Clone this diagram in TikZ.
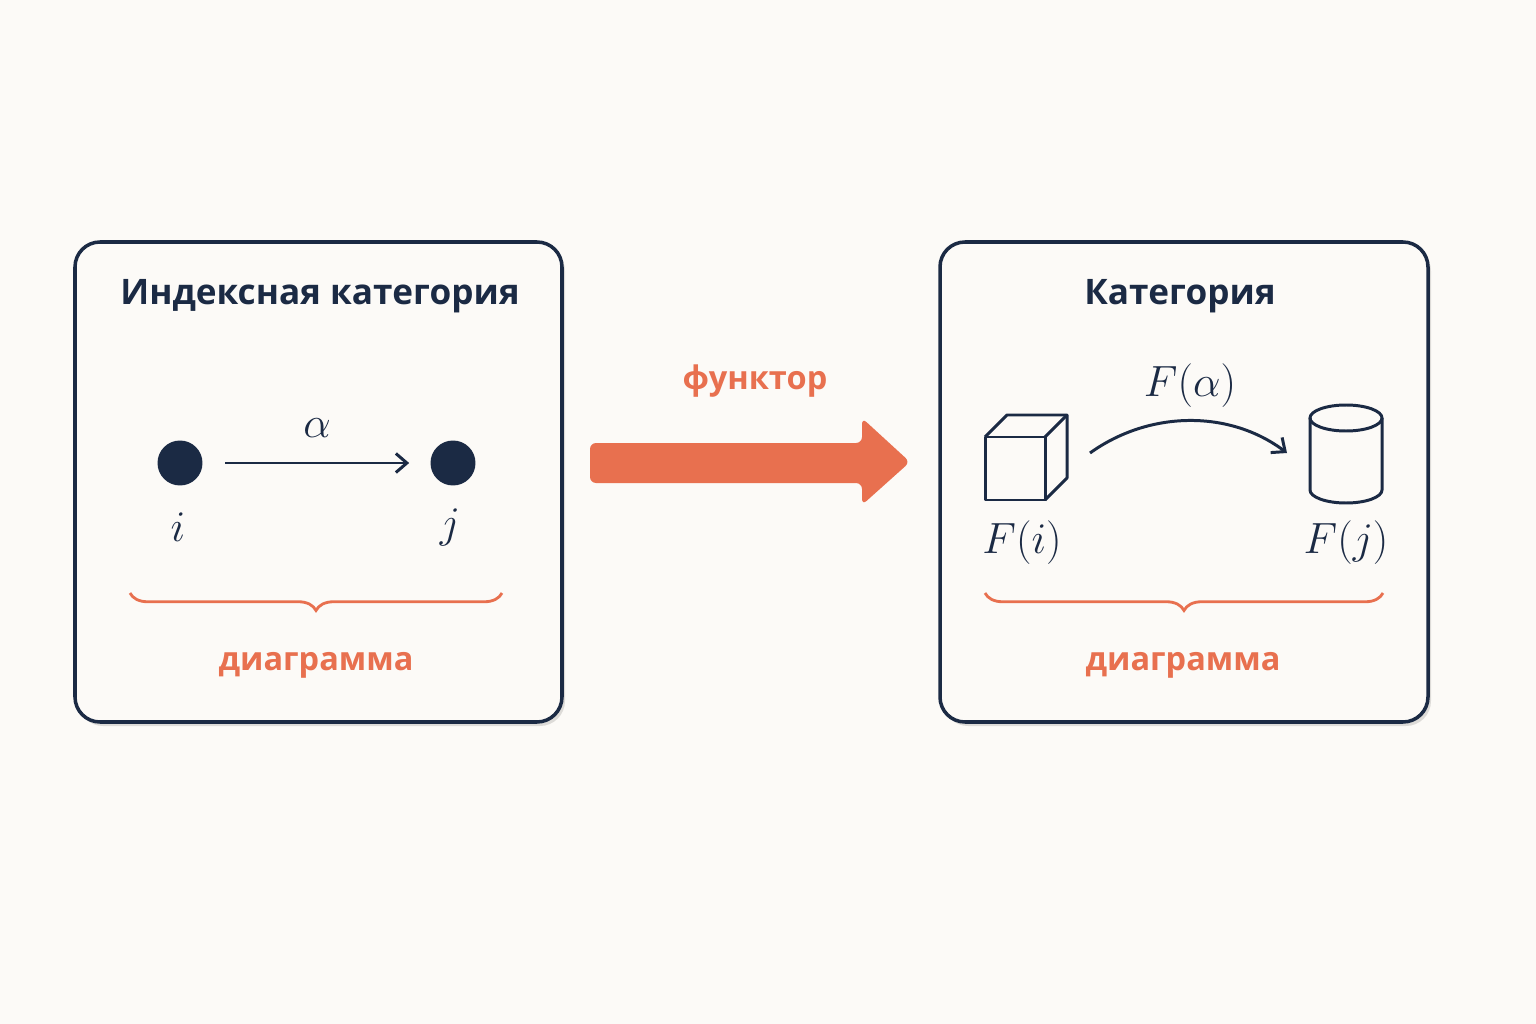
\documentclass[tikz,border=0pt]{standalone}
\usepackage{fontspec}
\setmainfont{Open Sans}
\usetikzlibrary{decorations.pathreplacing,arrows.meta,shadows}
\definecolor{navy}{HTML}{1B2A44}
\definecolor{org}{HTML}{E8704F}
\definecolor{bg}{HTML}{FCFAF7}
\begin{document}
\begin{tikzpicture}[x=0.02cm,y=-0.02cm,
  box/.style={draw=navy,line width=2pt,rounded corners=0.5cm,fill=bg,
     drop shadow={shadow xshift=0.06cm,shadow yshift=-0.08cm,opacity=0.12,fill=black}},
  ttl/.style={text=navy,font=\fontsize{20}{24}\selectfont\bfseries},
  lbl/.style={text=org,font=\fontsize{18.5}{22}\selectfont\bfseries},
  mth/.style={text=navy,font=\fontsize{25}{28}\selectfont},
  brc/.style={draw=org,line width=1.6pt,decorate,decoration={brace,mirror,amplitude=0.35cm}},
  ln/.style={draw=navy,line width=1.7pt}]
\fill[bg] (0,0) rectangle (1536,1024);
\useasboundingbox (0,0) rectangle (1536,1024);
\path[box] (75,242) rectangle (562,722);
\path[box] (940,242) rectangle (1428,722);
\node[ttl] (t1) at (320,296) {Индексная категория};
\node[ttl] (t2) at (1180,296) {Категория};
\node[circle,fill=navy,minimum size=0.9cm,inner sep=0] (i) at (180,463) {};
\node[circle,fill=navy,minimum size=0.9cm,inner sep=0] (j) at (453,463) {};
\draw[ln,-{Straight Barb[length=0.22cm,width=0.38cm]},shorten <=0.45cm,shorten >=0.42cm] (i) -- (j);
\node[mth] (al) at (317,428) {$\alpha$};
\node[mth] (li) at (178,527) {$i$};
\node[mth] (lj) at (450,527) {$j$};
\coordinate (b1a) at (130,593); \coordinate (b1b) at (502,593);
\draw[brc] (b1a) -- (b1b);
\node[lbl] (d1) at (316,665) {диаграмма};
% big arrow
\fill[org,rounded corners=0.12cm] (590,443) -- (862,443) -- (862,418) -- (910,462) -- (862,505) -- (862,483) -- (590,483) -- cycle;
\node[lbl] (fn) at (755,381) {функтор};
% cube
\draw[ln,line join=round] (985,437) rectangle (1045,500);
\draw[ln,line join=round] (985,437) -- (1007,415) -- (1067,415) -- (1067,478) -- (1045,500);
\draw[ln] (1045,437) -- (1067,415);
\coordinate (cube) at (1090,453);
% cylinder
\draw[ln] (1346,418) ellipse (36 and 13);
\draw[ln] (1310,418) -- (1310,490) arc[start angle=180,end angle=0,x radius=36,y radius=13] -- (1382,418);
\coordinate (cyl) at (1287,453);
\draw[ln,-{Straight Barb[length=0.22cm,width=0.38cm]}] (cube) .. controls (1150,410) and (1230,410) .. (cyl);
\node[mth] (fa) at (1190,386) {$F(\alpha)$};
\node[mth] (fi) at (1022,543) {$F(i)$};
\node[mth] (fj) at (1346,543) {$F(j)$};
\coordinate (b2a) at (985,593); \coordinate (b2b) at (1383,593);
\draw[brc] (b2a) -- (b2b);
\node[lbl] (d2) at (1183,665) {диаграмма};
\end{tikzpicture}
\end{document}
